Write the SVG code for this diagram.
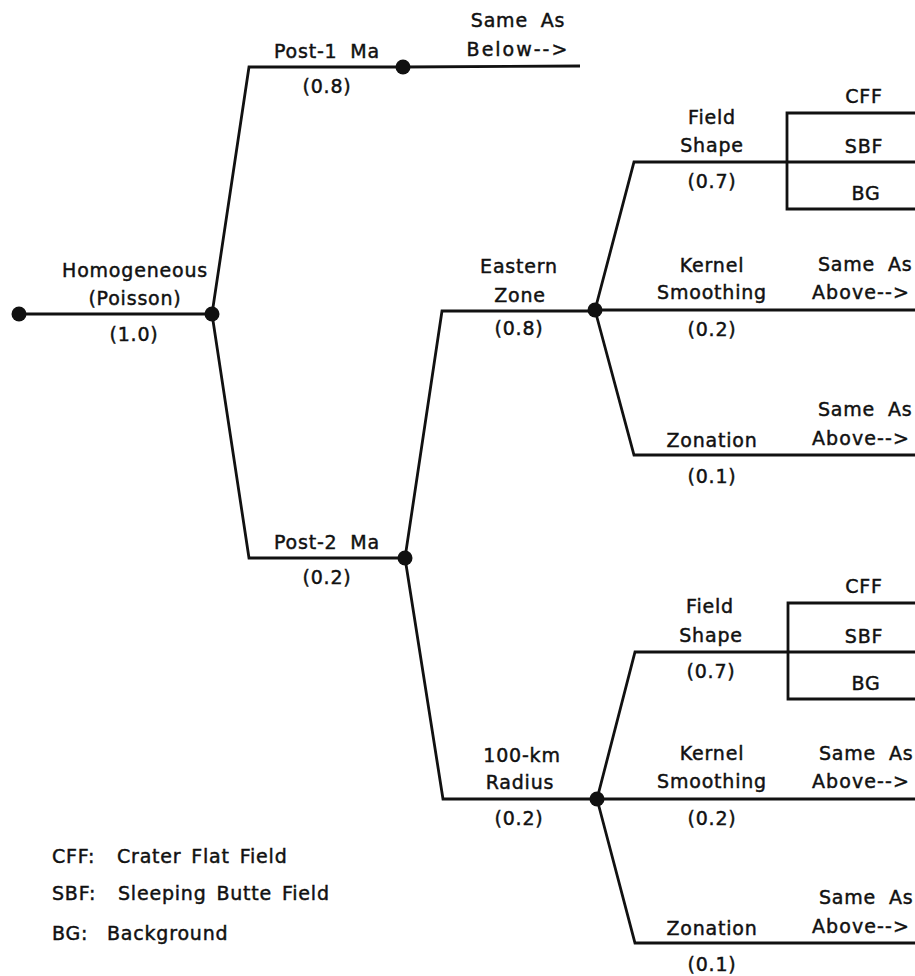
<svg xmlns="http://www.w3.org/2000/svg" width="915" height="976" viewBox="0 0 915 976">
<style>
  .ln { fill: none; stroke: #111; stroke-width: 2.8; stroke-linejoin: miter; }
  .dot { fill: #111; }
  text { font-family: "DejaVu Sans", "Liberation Sans", sans-serif; font-size: 19px; fill: #111; stroke: #111; stroke-width: 0.45px; letter-spacing: 0.8px; word-spacing: 6px; }
  .c { text-anchor: middle; }
  .s { text-anchor: start; }
  .ar { letter-spacing: 2px; }
  .ab { letter-spacing: 1.1px; }
  .lg { word-spacing: 3px; }
</style>
<rect width="915" height="976" fill="#fff"/>

<g id="connectors">
  <path class="ln" d="M19,314 H212"/>
  <path class="ln" d="M212,314 L249,67 H403 L580,66"/>
  <path class="ln" d="M212,314 L249,558 H405"/>
  <path class="ln" d="M405,558 L442,311 H595"/>
  <path class="ln" d="M405,558 L443,799 H597"/>
  <path class="ln" d="M595,310 L634,162 H915"/>
  <path class="ln" d="M595,310 H915"/>
  <path class="ln" d="M595,310 L634,455 H915"/>
  <path class="ln" d="M597,799 L635,652 H915"/>
  <path class="ln" d="M597,799 H915"/>
  <path class="ln" d="M597,799 L635,943 H915"/>
  <path class="ln" d="M915,113 H787 V209 H915"/>
  <path class="ln" d="M915,603 H788 V699 H915"/>
</g>

<g id="root">
  <circle class="dot" cx="19" cy="314" r="7.5"/>
</g>

<g id="homogeneous">
  <circle class="dot" cx="212" cy="314" r="7.5"/>
  <text class="c" x="135" y="277">Homogeneous</text>
  <text class="c" x="135" y="305">(Poisson)</text>
  <text class="c" x="134" y="341">(1.0)</text>
</g>

<g id="post1">
  <circle class="dot" cx="403" cy="67" r="7.5"/>
  <text class="c" x="327" y="58">Post-1 Ma</text>
  <text class="c" x="327" y="93">(0.8)</text>
  <text class="c" x="518" y="27">Same As</text>
  <text class="c ar" x="518" y="56">Below--&gt;</text>
</g>

<g id="post2">
  <circle class="dot" cx="405" cy="558" r="7.5"/>
  <text class="c" x="327" y="549">Post-2 Ma</text>
  <text class="c" x="327" y="584">(0.2)</text>
</g>

<g id="eastern-zone">
  <circle class="dot" cx="595" cy="310" r="7.5"/>
  <text class="c" x="519" y="273">Eastern</text>
  <text class="c" x="520" y="302">Zone</text>
  <text class="c" x="519" y="335">(0.8)</text>
</g>

<g id="ez-field-shape">
  <text class="c" x="712" y="124">Field</text>
  <text class="c" x="712" y="152">Shape</text>
  <text class="c" x="712" y="188">(0.7)</text>
  <text class="c" x="864" y="103">CFF</text>
  <text class="c" x="864" y="153">SBF</text>
  <text class="c" x="866" y="200">BG</text>
</g>

<g id="ez-kernel">
  <text class="c" x="712" y="272">Kernel</text>
  <text class="c" x="712" y="299">Smoothing</text>
  <text class="c" x="712" y="336">(0.2)</text>
  <text class="s" x="818" y="271">Same As</text>
  <text class="s ab" x="812" y="299">Above--&gt;</text>
</g>

<g id="ez-zonation">
  <text class="c" x="712" y="447">Zonation</text>
  <text class="c" x="712" y="483">(0.1)</text>
  <text class="s" x="818" y="416">Same As</text>
  <text class="s ab" x="812" y="445">Above--&gt;</text>
</g>

<g id="radius-100km">
  <circle class="dot" cx="597" cy="799" r="7.5"/>
  <text class="c" x="522" y="762">100-km</text>
  <text class="c" x="520" y="789">Radius</text>
  <text class="c" x="519" y="825">(0.2)</text>
</g>

<g id="r-field-shape">
  <text class="c" x="710" y="613">Field</text>
  <text class="c" x="711" y="642">Shape</text>
  <text class="c" x="711" y="678">(0.7)</text>
  <text class="c" x="864" y="593">CFF</text>
  <text class="c" x="864" y="643">SBF</text>
  <text class="c" x="866" y="690">BG</text>
</g>

<g id="r-kernel">
  <text class="c" x="712" y="760">Kernel</text>
  <text class="c" x="712" y="788">Smoothing</text>
  <text class="c" x="712" y="825">(0.2)</text>
  <text class="s" x="819" y="760">Same As</text>
  <text class="s ab" x="812" y="788">Above--&gt;</text>
</g>

<g id="r-zonation">
  <text class="c" x="712" y="935">Zonation</text>
  <text class="c" x="712" y="971">(0.1)</text>
  <text class="s" x="819" y="904">Same As</text>
  <text class="s ab" x="812" y="933">Above--&gt;</text>
</g>

<g id="legend">
  <text class="s" x="52" y="863">CFF:</text>
  <text class="s lg" x="117" y="863">Crater Flat Field</text>
  <text class="s" x="52" y="900">SBF:</text>
  <text class="s lg" x="118" y="900">Sleeping Butte Field</text>
  <text class="s" x="52" y="940">BG:</text>
  <text class="s lg" x="107" y="940">Background</text>
</g>
</svg>
